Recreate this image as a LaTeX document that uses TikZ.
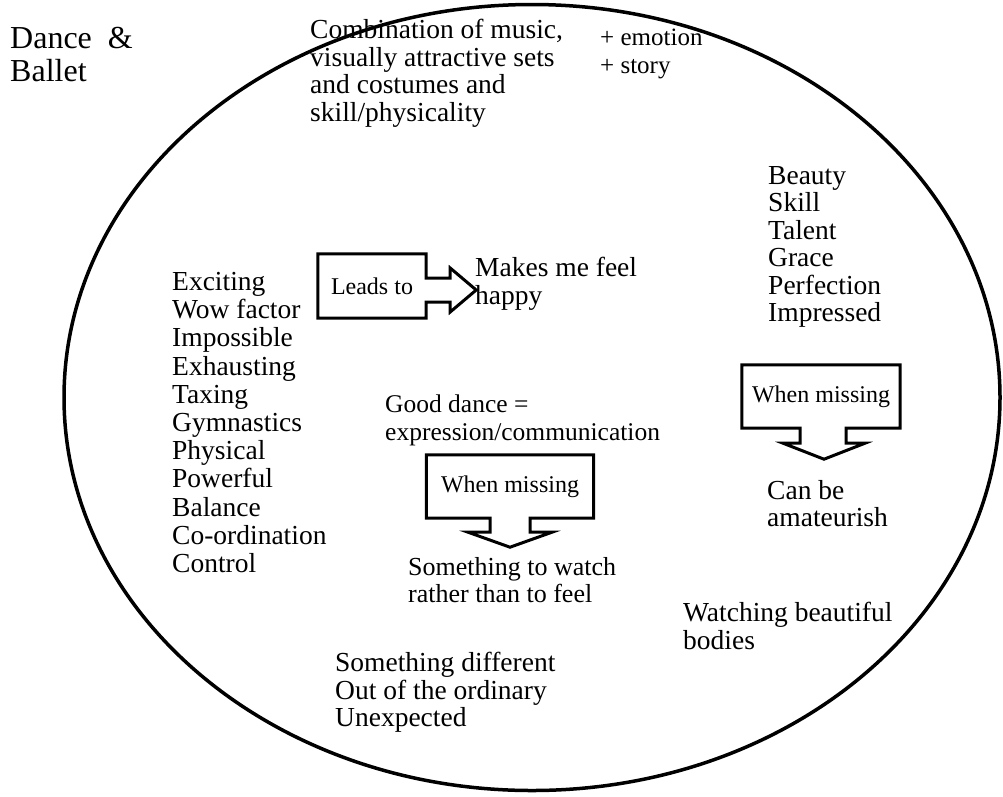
\documentclass[tikz,border=0pt]{standalone}
\usepackage{fontspec}
\setmainfont{Liberation Serif}
\usetikzlibrary{calc,positioning}
\tikzstyle{words}   = [anchor=north west,inner sep=0pt,align=left,font=\fontsize{27.5}{27.5}\selectfont]
\tikzstyle{heading} = [anchor=north west,inner sep=0pt,align=left,font=\fontsize{32}{33}\selectfont]
\tikzstyle{callbox} = [inner sep=0pt,font=\fontsize{24}{25}\selectfont]
\tikzstyle{callout} = [line width=3pt,line join=miter]
\tikzstyle{rim}     = [line width=3.5pt]

\begin{document}
\begin{tikzpicture}[x=1pt,y=-1pt]
                  \useasboundingbox (0,0) rectangle (1003,796);
                  \draw[rim] (532,397.5) ellipse [x radius=468,y radius=393];

                  \node (title)[heading] at (10,27) {Dance \ \&\\Ballet};
                  \node (combo)[words] at (310,19) {Combination of music,\\visually attractive sets\\and costumes and\\skill/physicality};
                  \node (extra)[words,font=\fontsize{25}{27.5}\selectfont] at (600,29) {+ emotion\\+ story};
                  \node (beauty)[words] at (768,166) {Beauty\\Skill\\Talent\\Grace\\Perfection\\Impressed};
                  \node (excite)[words,font=\fontsize{27.5}{28.2}\selectfont] at (172,272) {Exciting\\Wow factor\\Impossible\\Exhausting\\Taxing\\Gymnastics\\Physical\\Powerful\\Balance\\Co-ordination\\Control};
                  \node (happy)[words] at (475,257) {Makes me feel\\happy};
                  \node (good)[words,font=\fontsize{25.5}{27.5}\selectfont] at (385,395) {Good dance =\\expression/communication};
                  \node (amateur)[words] at (767,480) {Can be\\amateurish};
                  \node (watch)[words,font=\fontsize{26}{27.5}\selectfont] at (408,557) {Something to watch\\rather than to feel};
                  \node (bodies)[words] at (683,602) {Watching beautiful\\bodies};
                  \node (differ)[words] at (335,652) {Something different\\Out of the ordinary\\Unexpected};

                  % arrow boxes
                  \node (lead)[callbox,minimum width=108,minimum height=64] at (372,286) {Leads to};
                  \node (miss1)[callbox,minimum width=167,minimum height=63] at (510,486.5) {When missing};
                  \node (miss2)[callbox,minimum width=158,minimum height=63] at (821,396.5) {When missing};

                  \draw[callout] (lead.north west) -- (lead.north east) -- ($(lead.east)+(0,-8)$) -- ++(24,0) -- ++(0,-10)
                        -- ($(lead.east)+(50,4)$) -- ($(lead.east)+(24,26)$) -- ++(0,-10) -- ($(lead.east)+(0,16)$)
                        -- (lead.south east) -- (lead.south west) -- cycle;
                  \draw[callout] (miss1.south west) -- (miss1.north west) -- (miss1.north east) -- (miss1.south east)
                        -- ($(miss1.south)+(20,0)$) -- ++(0,14) -- ++(22,0) -- ($(miss1.south)+(0,29)$)
                        -- ($(miss1.south)+(-42,14)$) -- ++(22,0) -- ($(miss1.south)+(-20,0)$) -- cycle;
                  \draw[callout] (miss2.south west) -- (miss2.north west) -- (miss2.north east) -- (miss2.south east)
                        -- ($(miss2.south)+(25,0)$) -- ++(0,15) -- ++(19,0) -- ($(miss2.south)+(3,31)$)
                        -- ($(miss2.south)+(-38,15)$) -- ++(17,0) -- ($(miss2.south)+(-21,0)$) -- cycle;
\end{tikzpicture}
\end{document}
